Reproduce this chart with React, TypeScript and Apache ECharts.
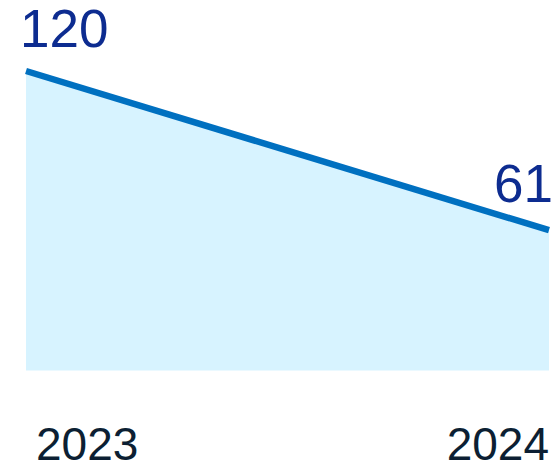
import React, { useEffect, useRef } from "react";
import * as echarts from "echarts";

const categories = ["2023", "2024"];
const values = [120, 61];

export default function App() {
  const ref = useRef<HTMLDivElement>(null);
  useEffect(() => {
    if (!ref.current) return;
    const chart = echarts.init(ref.current, null, { renderer: "svg" });
    const labelFont = "Liberation Sans, Arial, sans-serif";
    chart.setOption({
      animation: false,
      grid: { left: 26, right: 5, top: 71, bottom: 89.5, outerBoundsMode: "none", containLabel: false },
      xAxis: {
        type: "category",
        boundaryGap: false,
        data: categories.map((c, i) => ({
          value: c,
          textStyle: i === 0 ? { align: "left", padding: [0, 0, 0, 10] } : { align: "right", padding: [0, 0, 0, 0] },
        })),
        axisLine: { show: false },
        axisTick: { show: false },
        splitLine: { show: false },
        axisLabel: {
          fontSize: 46,
          fontFamily: labelFont,
          color: "#0c1f33",
          margin: 50,
          lineHeight: 46,
        },
      },
      yAxis: {
        type: "value",
        min: 9,
        max: 120,
        show: false,
        splitLine: { show: false },
      },
      series: [
        {
          type: "line",
          data: values.map((v, i) => ({
            value: v,
            label:
              i === 0
                ? { position: [-5, -15], align: "left", verticalAlign: "bottom" }
                : { position: [5, -19], align: "right", verticalAlign: "bottom" },
          })),
          symbol: "circle",
          symbolSize: 2,
          showSymbol: true,
          itemStyle: { color: "rgba(0,0,0,0)", borderWidth: 0 },
          lineStyle: { color: "#0070c0", width: 6.5, cap: "butt" },
          areaStyle: { color: "#d7f3ff", opacity: 1, origin: "start" },
          label: {
            show: true,
            fontSize: 53,
            lineHeight: 53,
            fontFamily: labelFont,
            color: "#0d2c90",
          },
          emphasis: { disabled: true },
        },
      ],
    });
    return () => chart.dispose();
  }, []);
  return (
    <div
      ref={ref}
      style={{ position: "absolute", left: 0, top: 0, width: 554, height: 460 }}
    />
  );
}
